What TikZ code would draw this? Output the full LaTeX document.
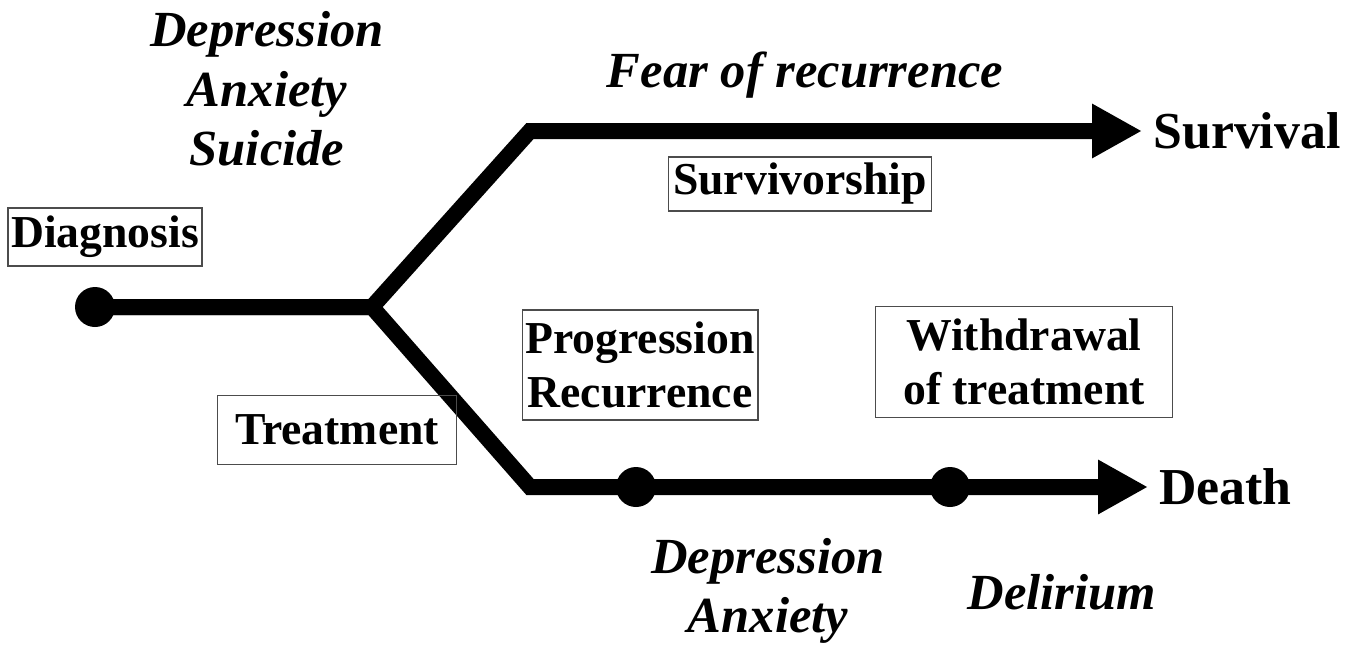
\documentclass[tikz,border=0pt]{standalone}
\usepackage{fontspec}
\setmainfont{Liberation Serif}
\usetikzlibrary{arrows.meta}
\tikzset{
track/.style={line width=0.32cm, line join=miter, -{Triangle[length=1cm,width=1.02cm]}},
blob/.style={circle, fill=black, inner sep=0pt, minimum size=0.8cm},
tag/.style={draw=black!70, line width=0.6pt, align=center, inner sep=0pt,
  font=\fontsize{26}{31}\selectfont\bfseries},
note/.style={align=center, font=\fontsize{28.8}{34}\selectfont\bfseries\itshape},
goal/.style={anchor=west, inner xsep=0.22cm, font=\fontsize{29.5}{35}\selectfont\bfseries},
}

\begin{document}
\begin{tikzpicture}[x=0.02cm, y=-0.02cm]
        \useasboundingbox (0,0) rectangle (1365,646);

        % points of the pathway
        \node[blob] (d0) at (95,307) {};
        \coordinate (split) at (372,307);
        \coordinate (up) at (530,131);
        \coordinate (low) at (530,487);
        \node[blob] (d1) at (636,487) {};
        \node[blob] (d2) at (950,487) {};
        \node[goal] (surv) at (1142,131) {Survival};
        \node[goal] (death) at (1148,487) {Death};

        \draw[track] (d0.center) -- (split) -- (up) -- (surv.west);
        \draw[track] (d0.center) -- (split) -- (low) -- (d1.center) -- (d2.center) -- (death.west);

        % boxes
        \node[tag, minimum width=3.88cm, minimum height=1.16cm] (diag) at (105,237) {Diagnosis};
        \node[tag, minimum width=5.26cm, minimum height=1.08cm] (survship) at (800,184) {Survivorship};
        \node[tag, minimum width=4.78cm, minimum height=1.38cm] (treat) at (337,430) {Treatment};
        \node[tag, minimum width=4.72cm, minimum height=2.2cm] (prog) at (640,365) {Progression\\Recurrence};
        \node[tag, minimum width=5.94cm, minimum height=2.22cm] (withdraw) at (1024,362) {Withdrawal\\of treatment};

        % psychological issues
        \node[note] (psy1) at (267,89) {Depression\\Anxiety\\Suicide};
        \node[note] (fear) at (805,75) {Fear of recurrence};
        \node[note] (psy2) at (768,591) {Depression\\Anxiety};
        \node[note] (delir) at (1062,592) {Delirium};
    \end{tikzpicture}
\end{document}
